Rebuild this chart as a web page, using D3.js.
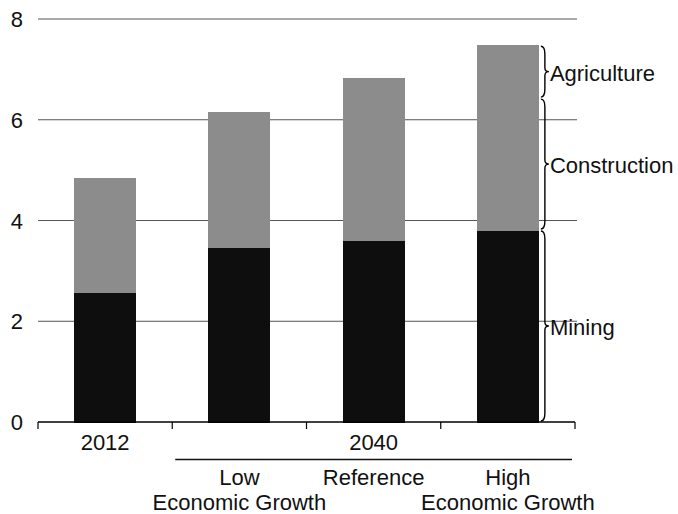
<!DOCTYPE html>
<html><head><meta charset="utf-8">
<script src="https://cdn.jsdelivr.net/npm/d3@7"></script>
<style>body{margin:0;background:#fff}svg{display:block;font-family:"Liberation Sans",Arial,sans-serif}</style>
</head><body>
<svg id="c" width="678" height="514"></svg>
<script>
const categories = ["2012","Low","Reference","High"];
const mining = [2.58, 3.47, 3.61, 3.81];
const construction = [1.30, 1.70, 2.20, 2.62];
const agriculture = [0.96, 0.98, 1.02, 1.05];
const yTicks = [0,2,4,6,8];
const groupLabel = "2040";
const scenarioLine1 = ["Low","Reference","High"];
const scenarioLine2 = ["Economic Growth","","Economic Growth"];
const seriesNames = ["Mining","Construction","Agriculture"];

const FS = 22;
const svg = d3.select("#c");
const x = d3.scaleBand().domain(categories).range([38,575]).paddingInner(0.538).paddingOuter(0.269);
const y = d3.scaleLinear().domain([0,8]).range([422,19]);

const rows = categories.map((c,i)=>({cat:c, Mining:mining[i], Construction:construction[i], Agriculture:agriculture[i]}));
const stack = d3.stack().keys(seriesNames)(rows);
const fills = {Mining:"#0e0e0e", Construction:"#8c8c8c", Agriculture:"#8c8c8c"};

// gridlines
svg.append("g").selectAll("line").data(yTicks.filter(d=>d>0)).join("line")
  .attr("x1",38).attr("x2",577).attr("y1",d=>y(d)).attr("y2",d=>y(d))
  .attr("stroke","#555").attr("stroke-width",1);

// y labels
svg.append("g").selectAll("text").data(yTicks).join("text")
  .attr("x",23).attr("y",d=>y(d)+8).attr("text-anchor","end")
  .attr("font-size",FS).attr("fill","#111").text(d=>d);

// bars
svg.append("g").attr("shape-rendering","crispEdges").selectAll("g").data(stack).join("g").attr("fill",d=>fills[d.key])
  .selectAll("rect").data(d=>d).join("rect")
  .attr("x",d=>x(d.data.cat)).attr("width",x.bandwidth())
  .attr("y",d=>y(d[1])).attr("height",d=>y(d[0])-y(d[1])+0.5);

// x axis
const step = x.step(), half = step*x.paddingInner()/2;
svg.append("line").attr("x1",38).attr("x2",575).attr("y1",y(0)).attr("y2",y(0)).attr("stroke","#000").attr("stroke-width",1.5);
const bounds = categories.map(c=>x(c)-half).concat([x(categories[3])+x.bandwidth()+half]);
svg.append("g").selectAll("line").data(bounds).join("line")
  .attr("x1",d=>d).attr("x2",d=>d).attr("y1",y(0)).attr("y2",y(0)+7).attr("stroke","#000").attr("stroke-width",1.2);

const cx = c=>x(c)+x.bandwidth()/2;
svg.append("text").attr("x",cx("2012")).attr("y",450).attr("text-anchor","middle").attr("font-size",FS).attr("fill","#111").text("2012");
svg.append("text").attr("x",cx("Reference")).attr("y",450).attr("text-anchor","middle").attr("font-size",FS).attr("fill","#111").text(groupLabel);
svg.append("line").attr("x1",bounds[1]+3).attr("x2",bounds[4]-3).attr("y1",459.5).attr("y2",459.5).attr("stroke","#111").attr("stroke-width",1.5);
svg.append("g").selectAll("text").data(scenarioLine1).join("text")
  .attr("x",(d,i)=>cx(categories[i+1])).attr("y",485).attr("text-anchor","middle").attr("font-size",FS).attr("fill","#111").text(d=>d);
svg.append("g").selectAll("text").data(scenarioLine2).join("text")
  .attr("x",(d,i)=>cx(categories[i+1])).attr("y",510).attr("text-anchor","middle").attr("font-size",FS).attr("fill","#111").text(d=>d);

// braces for last bar
function brace(x0, y0, y1, w){
  const m=(y0+y1)/2, q=w/2;
  return `M${x0},${y0} Q${x0+q},${y0} ${x0+q},${y0+Math.min(8,(m-y0)/3)} L${x0+q},${m-4} Q${x0+q},${m} ${x0+w},${m} Q${x0+q},${m} ${x0+q},${m+4} L${x0+q},${y1-Math.min(8,(y1-m)/3)} Q${x0+q},${y1} ${x0},${y1}`;
}
const last = stack.map(s=>s[3]);
const bx = x("High")+x.bandwidth()+2;
last.forEach((d,i)=>{
  const a=y(d[1]), b=y(d[0]);
  svg.append("path").attr("d",brace(bx,a+1,b-1,8)).attr("fill","none").attr("stroke","#000").attr("stroke-width",1.4);
  svg.append("text").attr("x",bx+9).attr("y",(a+b)/2+9).attr("font-size",FS).attr("fill","#111").text(seriesNames[i]);
});
</script>
</body></html>
